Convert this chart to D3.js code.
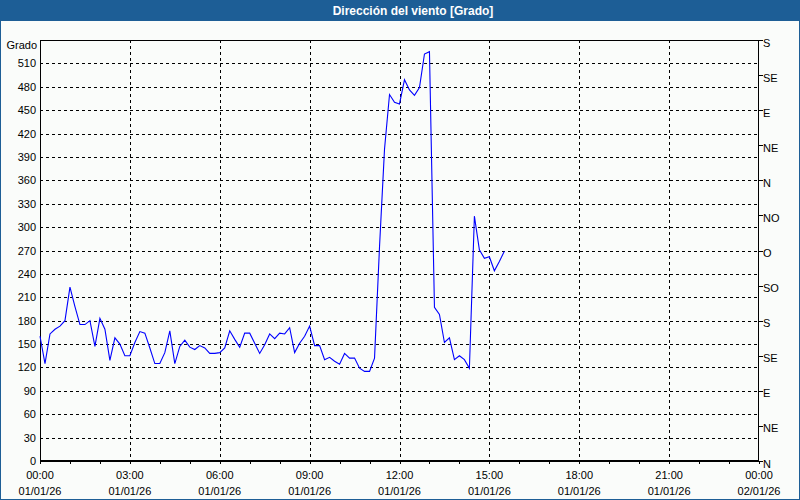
<!DOCTYPE html>
<html><head><meta charset="utf-8">
<script src="https://cdn.jsdelivr.net/npm/d3@7"></script>
<style>
html,body{margin:0;padding:0;background:#fafcfa;}
svg{display:block;font-family:"Liberation Sans",Arial,sans-serif;}
</style></head>
<body>
<svg id="c" width="800" height="500"></svg>
<script>
const title = "Dirección del viento [Grado]";
const yLabel = "Grado";
const times = ["00:00","00:10","00:20","00:30","00:40","00:50","01:00","01:10","01:20","01:30","01:40","01:50",
"02:00","02:10","02:20","02:30","02:40","02:50","03:00","03:10","03:20","03:30","03:40","03:50",
"04:00","04:10","04:20","04:30","04:40","04:50","05:00","05:10","05:20","05:30","05:40","05:50",
"06:00","06:10","06:20","06:30","06:40","06:50","07:00","07:10","07:20","07:30","07:40","07:50",
"08:00","08:10","08:20","08:30","08:40","08:50","09:00","09:10","09:20","09:30","09:40","09:50",
"10:00","10:10","10:20","10:30","10:40","10:50","11:00","11:10","11:20","11:30","11:40","11:50",
"12:00","12:10","12:20","12:30","12:40","12:50","13:00","13:10","13:20","13:30","13:40","13:50",
"14:00","14:10","14:20","14:30","14:40","14:50","15:00","15:10","15:20","15:30"];
const direction = [160,125,163,169,173,180,223,198,175,175,180,147,
183,169,129,158,150,135,135,152,166,164,145,125,
125,139,167,125,147,155,146,143,148,145,138,138,
139,145,167,156,146,164,164,151,138,149,163,157,
164,163,171,139,151,160,173,148,148,130,133,128,
124,138,132,132,119,115,115,132,275,400,470,460,
458,489,476,469,479,522,525,197,188,152,158,130,
135,130,119,314,271,260,262,244,256,269];
const yTicks = [0,30,60,90,120,150,180,210,240,270,300,330,360,390,420,450,480,510];
const compassTicks = [0,45,90,135,180,225,270,315,360,405,450,495,540];
const compassLabels = ["N","NE","E","SE","S","SO","O","NO","N","NE","E","SE","S"];
const xTickHours = [0,3,6,9,12,15,18,21,24];
const xTimeLabels = ["00:00","03:00","06:00","09:00","12:00","15:00","18:00","21:00","00:00"];
const xDateLabels = ["01/01/26","01/01/26","01/01/26","01/01/26","01/01/26","01/01/26","01/01/26","01/01/26","02/01/26"];
const yMax = 540;

const svg = d3.select("#c");
const W = 800, H = 500;
const L = 40, R = 759, T = 40, B = 461;
const frame = "#1d5e96";

svg.append("rect").attr("width",W).attr("height",H).attr("fill","#fafcfa");
svg.append("rect").attr("x",0.5).attr("y",0.5).attr("width",W-1).attr("height",H-1)
  .attr("fill","none").attr("stroke",frame).attr("stroke-width",1);
svg.append("rect").attr("x",0).attr("y",0).attr("width",W).attr("height",21).attr("fill",frame);
svg.append("text").attr("x",413).attr("y",14.5).attr("text-anchor","middle")
  .attr("fill","#fff").attr("font-weight","bold").attr("font-size","12px").text(title);

const parse = s => { const [h,m] = s.split(":").map(Number); return h + m/60; };
const x = d3.scaleLinear().domain([0,24]).range([L,R]);
const y = d3.scaleLinear().domain([0,yMax]).range([B,T]);

const g = svg.append("g");
// grid
g.selectAll(".hg").data(yTicks.filter(v=>v>0)).join("line")
  .attr("x1",L).attr("x2",R).attr("y1",d=>Math.round(y(d))+0.5).attr("y2",d=>Math.round(y(d))+0.5)
  .attr("stroke","#000").attr("stroke-dasharray","3,3").attr("shape-rendering","crispEdges");
g.selectAll(".vg").data(xTickHours.filter(h=>h>0&&h<24)).join("line")
  .attr("y1",T).attr("y2",B).attr("x1",d=>Math.round(x(d))+0.5).attr("x2",d=>Math.round(x(d))+0.5)
  .attr("stroke","#000").attr("stroke-dasharray","3,3").attr("shape-rendering","crispEdges");

// axes
const xAxis = d3.axisBottom(x).tickValues(d3.range(0,25,1)).tickSize(3).tickFormat("");
const xg = svg.append("g").attr("transform",`translate(0,${B})`).call(xAxis);
xg.select(".domain").remove();
xg.selectAll("line").attr("stroke","#000").attr("shape-rendering","crispEdges");
const xl = svg.append("g");
xl.selectAll(".t").data(xTickHours).join("text").attr("x",d=>x(d)).attr("y",479)
  .attr("text-anchor","middle").attr("font-size","11px").attr("fill","#000").text((d,i)=>xTimeLabels[i]);
xl.selectAll(".d").data(xTickHours).join("text").attr("x",d=>x(d)).attr("y",495)
  .attr("text-anchor","middle").attr("font-size","11px").attr("fill","#000").text((d,i)=>xDateLabels[i]);

const yAxis = d3.axisLeft(y).tickValues(yTicks).tickSize(0).tickPadding(4).tickFormat(d3.format("d"));
const yg = svg.append("g").attr("transform",`translate(${L},0)`).call(yAxis);
yg.select(".domain").remove();
yg.selectAll("text").attr("font-size","11px").attr("font-family","Liberation Sans, Arial, sans-serif").attr("fill","#000");
svg.append("text").attr("x",37).attr("y",49).attr("text-anchor","end").attr("font-size","11px").text(yLabel);

const y2 = d3.axisRight(y).tickValues(compassTicks).tickSize(4).tickPadding(0).tickFormat((d,i)=>compassLabels[i]);
const rg = svg.append("g").attr("transform",`translate(${R},0)`).call(y2);
rg.select(".domain").remove();
rg.selectAll("line").attr("stroke","#000").attr("shape-rendering","crispEdges");
rg.selectAll("text").attr("font-size","11px").attr("dy","0.55em").attr("font-family","Liberation Sans, Arial, sans-serif").attr("fill","#000");

// frame lines
svg.append("rect").attr("x",L+0.5).attr("y",T+0.5).attr("width",R-L-1).attr("height",B-T-1)
  .attr("fill","none").attr("stroke","#000").attr("stroke-width",1);
svg.append("line").attr("x1",L).attr("x2",R).attr("y1",B+0.5).attr("y2",B+0.5).attr("stroke","#000");

// data line
const line = d3.line().x((d,i)=>x(parse(times[i]))).y(d=>y(d));
svg.append("path").datum(direction).attr("d",line).attr("fill","none")
  .attr("stroke","#0000ff").attr("stroke-width",1.1);
</script>
</body></html>
